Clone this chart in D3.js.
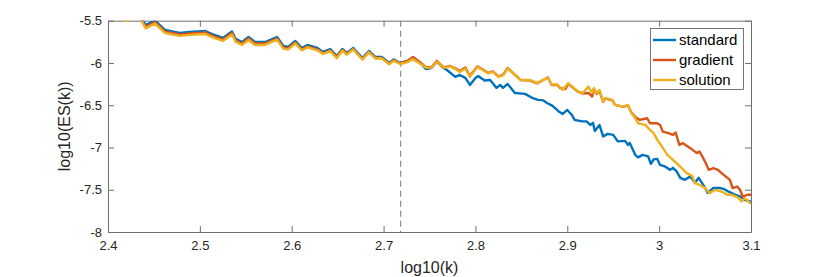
<!DOCTYPE html>
<html>
<head>
<meta charset="utf-8">
<script src="https://cdn.jsdelivr.net/npm/d3@7"></script>
<style>
  body { margin: 0; background: #fff; }
  svg { display: block; font-family: "Liberation Sans", Arial, sans-serif; }
</style>
</head>
<body>
<svg id="chart" width="830" height="277"></svg>
<script>
// tick values
const xTicks = [2.4, 2.5, 2.6, 2.7, 2.8, 2.9, 3.0, 3.1];
const yTicks = [-8, -7.5, -7, -6.5, -6, -5.5];
const markerX = 2.7186;

// standard
const xStandard = [2.400,2.411,2.421,2.428,2.436,2.441,2.451,2.462,2.478,2.489,2.506,2.516,2.525,2.535,2.539,2.546,2.553,2.560,2.571,2.584,
  2.591,2.596,2.604,2.611,2.617,2.628,2.634,2.642,2.649,2.655,2.660,2.667,2.677,2.684,2.691,2.698,2.706,2.711,2.718,2.726,
  2.732,2.740,2.746,2.752,2.758,2.765,2.769,2.778,2.783,2.789,2.794,2.800,2.803,2.810,2.816,2.823,2.827,2.830,2.835,2.843,
  2.854,2.862,2.868,2.874,2.878,2.884,2.890,2.895,2.900,2.905,2.908,2.916,2.921,2.925,2.928,2.930,2.935,2.939,2.944,2.950,
  2.955,2.963,2.966,2.968,2.974,2.977,2.982,2.988,2.991,2.994,2.998,3.001,3.006,3.012,3.015,3.019,3.023,3.028,3.034,3.039,
  3.043,3.048,3.053,3.059,3.066,3.070,3.075,3.083,3.088,3.093,3.100];
const yStandard = [-5.350,-5.421,-5.456,-5.385,-5.468,-5.551,-5.498,-5.610,-5.645,-5.634,-5.622,-5.669,-5.704,-5.628,-5.716,-5.752,-5.693,-5.752,-5.752,-5.693,
  -5.799,-5.811,-5.740,-5.823,-5.787,-5.823,-5.870,-5.835,-5.917,-5.835,-5.882,-5.823,-5.941,-5.858,-5.929,-5.929,-6.000,-5.959,-6.000,-5.976,
  -5.953,-6.000,-6.071,-6.059,-5.988,-6.059,-6.083,-6.165,-6.142,-6.177,-6.260,-6.177,-6.154,-6.207,-6.201,-6.295,-6.260,-6.295,-6.248,-6.355,
  -6.366,-6.414,-6.437,-6.443,-6.473,-6.508,-6.567,-6.603,-6.556,-6.615,-6.674,-6.691,-6.691,-6.733,-6.709,-6.804,-6.733,-6.869,-6.839,-6.851,
  -6.928,-6.922,-6.969,-6.946,-7.087,-7.117,-7.087,-7.105,-7.194,-7.141,-7.135,-7.206,-7.223,-7.265,-7.241,-7.282,-7.359,-7.383,-7.342,-7.418,
  -7.359,-7.442,-7.537,-7.478,-7.478,-7.489,-7.519,-7.560,-7.578,-7.619,-7.643];

// gradient
const xGradient = [2.400,2.411,2.421,2.428,2.436,2.441,2.451,2.462,2.478,2.489,2.506,2.516,2.525,2.535,2.539,2.546,2.553,2.560,2.571,2.584,
  2.591,2.596,2.604,2.611,2.617,2.628,2.634,2.642,2.649,2.655,2.660,2.667,2.677,2.684,2.691,2.698,2.706,2.711,2.718,2.726,
  2.732,2.740,2.746,2.752,2.758,2.765,2.769,2.772,2.778,2.783,2.789,2.794,2.802,2.808,2.814,2.819,2.825,2.830,2.835,2.849,
  2.859,2.867,2.874,2.879,2.883,2.889,2.892,2.898,2.901,2.912,2.917,2.923,2.927,2.929,2.932,2.935,2.939,2.941,2.949,2.952,
  2.961,2.966,2.970,2.974,2.979,2.987,2.990,2.998,3.001,3.004,3.010,3.015,3.018,3.022,3.026,3.034,3.041,3.044,3.050,3.054,
  3.059,3.064,3.068,3.077,3.080,3.085,3.088,3.091,3.096,3.100];
const yGradient = [-5.370,-5.440,-5.475,-5.405,-5.487,-5.570,-5.518,-5.628,-5.663,-5.652,-5.640,-5.687,-5.722,-5.646,-5.734,-5.770,-5.711,-5.770,-5.770,-5.711,
  -5.817,-5.829,-5.758,-5.841,-5.805,-5.841,-5.885,-5.850,-5.930,-5.847,-5.894,-5.835,-5.953,-5.870,-5.941,-5.940,-6.010,-5.968,-6.006,-5.976,
  -5.930,-5.995,-6.050,-6.050,-5.975,-6.050,-6.045,-6.035,-6.063,-6.095,-6.053,-6.154,-6.041,-6.077,-6.118,-6.100,-6.160,-6.142,-6.059,-6.201,
  -6.207,-6.242,-6.201,-6.171,-6.260,-6.260,-6.296,-6.307,-6.248,-6.343,-6.361,-6.355,-6.398,-6.307,-6.366,-6.331,-6.461,-6.420,-6.443,-6.496,
  -6.520,-6.502,-6.591,-6.638,-6.674,-6.654,-6.713,-6.713,-6.733,-6.812,-6.831,-6.851,-6.824,-6.969,-6.949,-7.008,-7.067,-7.048,-7.167,-7.265,
  -7.245,-7.265,-7.304,-7.383,-7.481,-7.462,-7.501,-7.580,-7.560,-7.560];

// solution
const xSolution = [2.400,2.411,2.421,2.428,2.436,2.441,2.451,2.462,2.478,2.489,2.506,2.516,2.525,2.535,2.539,2.546,2.553,2.560,2.571,2.584,
  2.591,2.596,2.604,2.611,2.617,2.628,2.634,2.642,2.649,2.655,2.660,2.667,2.677,2.684,2.691,2.698,2.706,2.711,2.718,2.726,
  2.732,2.740,2.746,2.752,2.758,2.765,2.769,2.772,2.778,2.783,2.789,2.794,2.802,2.808,2.814,2.819,2.825,2.830,2.835,2.849,
  2.859,2.867,2.874,2.879,2.883,2.889,2.895,2.901,2.912,2.917,2.923,2.927,2.929,2.932,2.935,2.939,2.941,2.949,2.952,2.961,
  2.966,2.970,2.974,2.977,2.985,2.990,2.994,2.998,3.003,3.009,3.015,3.023,3.030,3.036,3.039,3.044,3.050,3.055,3.061,3.068,
  3.074,3.079,3.085,3.090,3.093,3.100];
const ySolution = [-5.385,-5.460,-5.505,-5.420,-5.490,-5.590,-5.535,-5.645,-5.680,-5.668,-5.658,-5.705,-5.740,-5.663,-5.750,-5.787,-5.728,-5.787,-5.787,-5.725,
  -5.830,-5.842,-5.770,-5.853,-5.815,-5.850,-5.895,-5.860,-5.945,-5.855,-5.900,-5.840,-5.960,-5.875,-5.947,-5.945,-6.015,-5.975,-6.012,-5.990,
  -5.955,-6.010,-6.055,-6.055,-5.985,-6.055,-6.050,-6.041,-6.071,-6.106,-6.065,-6.165,-6.047,-6.083,-6.124,-6.106,-6.165,-6.148,-6.065,-6.201,
  -6.201,-6.236,-6.201,-6.177,-6.254,-6.254,-6.319,-6.240,-6.339,-6.355,-6.280,-6.355,-6.299,-6.358,-6.319,-6.457,-6.417,-6.437,-6.496,-6.517,
  -6.496,-6.595,-6.654,-6.713,-6.733,-6.792,-6.831,-6.910,-6.989,-7.087,-7.147,-7.226,-7.304,-7.336,-7.422,-7.442,-7.481,-7.540,-7.501,-7.521,
  -7.560,-7.560,-7.587,-7.639,-7.599,-7.667];

const seriesNames = ["standard", "gradient", "solution"];
const seriesColors = ["#0072BD", "#D95319", "#EDB120"];

const svg = d3.select("#chart");
const m = { left: 108, right: 751, top: 20.7, bottom: 232 };

const x = d3.scaleLinear().domain([2.4, 3.1]).range([m.left, m.right]);
const y = d3.scaleLinear().domain([-8, -5.5]).range([m.bottom, m.top]);

svg.append("defs").append("clipPath").attr("id", "plot-clip")
  .append("rect").attr("x", m.left).attr("y", m.top)
  .attr("width", m.right - m.left).attr("height", m.bottom - m.top);

const axisColor = "#262626";
const fmt = d => String(+d.toFixed(1));

// bottom + left axes with inward ticks (MATLAB style)
const gx = svg.append("g").attr("transform", `translate(0,${m.bottom})`)
  .call(d3.axisBottom(x).tickValues(xTicks).tickFormat(fmt).tickSizeInner(-6).tickSizeOuter(0).tickPadding(12));
const gy = svg.append("g").attr("transform", `translate(${m.left},0)`)
  .call(d3.axisLeft(y).tickValues(yTicks).tickFormat(fmt).tickSizeInner(-6).tickSizeOuter(0).tickPadding(12));
// top + right box edges with ticks, no labels
const gt = svg.append("g").attr("transform", `translate(0,${m.top})`)
  .call(d3.axisTop(x).tickValues(xTicks).tickFormat("").tickSizeInner(-6).tickSizeOuter(0));
const gr = svg.append("g").attr("transform", `translate(${m.right},0)`)
  .call(d3.axisRight(y).tickValues(yTicks).tickFormat("").tickSizeInner(-6).tickSizeOuter(0));

[gx, gy, gt, gr].forEach(g => {
  g.select(".domain").attr("stroke", "#6e6e6e").attr("stroke-width", 1);
  g.selectAll(".tick line").attr("stroke", "#6e6e6e").attr("stroke-width", 1);
  g.selectAll("text").attr("fill", axisColor).style("font-size", "13px")
    .style("font-family", "'Liberation Sans', Arial, sans-serif");
});
gx.selectAll("text").attr("dy", "0.71em").attr("y", 9);
gy.selectAll("text").attr("x", -6);

// vertical dashed marker
svg.append("line")
  .attr("x1", x(markerX)).attr("x2", x(markerX))
  .attr("y1", m.top).attr("y2", m.bottom)
  .attr("stroke", "#8c8c8c").attr("stroke-width", 1.2)
  .attr("stroke-dasharray", "6,4");

// series lines
const line = d3.line().x(d => x(d[0])).y(d => y(d[1]));
const allSeries = [
  d3.zip(xStandard, yStandard),
  d3.zip(xGradient, yGradient),
  d3.zip(xSolution, ySolution)
];
const plot = svg.append("g").attr("clip-path", "url(#plot-clip)");
allSeries.forEach((pts, i) => {
  plot.append("path").datum(pts)
    .attr("d", line)
    .attr("fill", "none")
    .attr("stroke", seriesColors[i])
    .attr("stroke-width", 2.4)
    .attr("stroke-linejoin", "round");
});

// axis labels
svg.append("text")
  .attr("x", (m.left + m.right) / 2).attr("y", 273)
  .attr("text-anchor", "middle").attr("fill", axisColor)
  .style("font-size", "16px").text("log10(k)");
svg.append("text")
  .attr("transform", `translate(70,${(m.top + m.bottom) / 2}) rotate(-90)`)
  .attr("text-anchor", "middle").attr("fill", axisColor)
  .style("font-size", "16px").text("log10(ES(k))");

// legend
const lg = svg.append("g");
lg.append("rect")
  .attr("x", 650.5).attr("y", 28.5).attr("width", 93).attr("height", 61)
  .attr("fill", "#fff").attr("stroke", "#555").attr("stroke-width", 0.8);
seriesNames.forEach((name, i) => {
  const yy = 40 + i * 20;
  lg.append("line").attr("x1", 653).attr("x2", 676).attr("y1", yy).attr("y2", yy)
    .attr("stroke", seriesColors[i]).attr("stroke-width", 2.4);
  lg.append("text").attr("x", 679).attr("y", yy).attr("dy", "0.35em")
    .attr("fill", "#000").style("font-size", "15px").text(name);
});
</script>
</body>
</html>
